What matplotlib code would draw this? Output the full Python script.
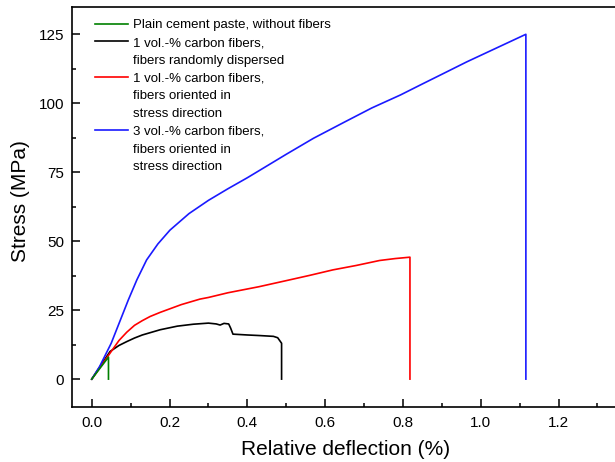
import matplotlib
matplotlib.use("Agg")
import matplotlib.pyplot as plt
from matplotlib.lines import Line2D
from matplotlib.ticker import MultipleLocator

plt.rcParams['font.family'] = ['Liberation Sans', 'DejaVu Sans']

# plain cement paste
plain_x = [0.0, 0.043, 0.043]
plain_y = [0.0, 8.0, 0.0]

# 1 vol.-% carbon fibers, random
rand_x = [0.0, 0.02, 0.047, 0.07, 0.09, 0.11, 0.13, 0.176, 0.22, 0.261, 0.30,
          0.32, 0.33, 0.34, 0.352, 0.357, 0.363, 0.40, 0.43, 0.467, 0.478,
          0.485, 0.488, 0.488]
rand_y = [0.0, 4.3, 10.0, 12.2, 13.6, 14.9, 16.0, 17.9, 19.2, 19.9, 20.3,
          20.0, 19.6, 20.2, 20.0, 18.5, 16.3, 16.0, 15.8, 15.5, 15.0,
          13.6, 13.0, 0.0]

# 1 vol.-% carbon fibers, oriented
or1_x = [0.0, 0.02, 0.047, 0.07, 0.09, 0.11, 0.13, 0.15, 0.176, 0.23, 0.278,
         0.30, 0.35, 0.43, 0.5, 0.56, 0.62, 0.68, 0.74, 0.78, 0.818, 0.818]
or1_y = [0.0, 4.0, 9.4, 14.0, 17.0, 19.5, 21.2, 22.7, 24.2, 27.0, 29.0,
         29.6, 31.3, 33.5, 35.7, 37.6, 39.6, 41.2, 43.0, 43.7, 44.2, 0.0]

# 3 vol.-% carbon fibers, oriented
or3_x = [0.0, 0.02, 0.05, 0.094, 0.116, 0.141, 0.17, 0.201, 0.25, 0.30, 0.35,
         0.40, 0.433, 0.5, 0.57, 0.65, 0.72, 0.7935, 0.85, 0.90, 0.964, 1.04,
         1.116, 1.116]
or3_y = [0.0, 4.5, 13.0, 28.7, 36.0, 43.2, 49.0, 54.0, 60.0, 64.8, 69.0,
         73.0, 75.8, 81.5, 87.3, 93.2, 98.3, 103.0, 107.0, 110.5, 115.0, 120.0,
         125.0, 0.0]

labels = ["Plain cement paste, without fibers",
          "1 vol.-% carbon fibers,", "fibers randomly dispersed",
          "1 vol.-% carbon fibers,", "fibers oriented in", "stress direction",
          "3 vol.-% carbon fibers,", "fibers oriented in", "stress direction"]

fig = plt.figure(figsize=(6.15, 4.62), dpi=100)
ax = fig.add_axes([72.3 / 615, 0.1197, 0.8887, 0.8658])

lw = 1.2
ax.plot(rand_x, rand_y, color='black', lw=lw)
ax.plot(or1_x, or1_y, color='#ff0000', lw=lw)
ax.plot(or3_x, or3_y, color='#1a1aff', lw=lw)
ax.plot(plain_x, plain_y, color='#008000', lw=lw, zorder=3)

ax.set_xlim(-0.05, 1.355)
ax.set_ylim(-10, 135)
ax.xaxis.set_major_locator(MultipleLocator(0.2))
ax.xaxis.set_minor_locator(MultipleLocator(0.1))
ax.yaxis.set_major_locator(MultipleLocator(25))
ax.yaxis.set_minor_locator(MultipleLocator(12.5))
ax.tick_params(which='both', direction='in', width=1.1, labelsize=11)
ax.tick_params(which='major', length=6)
ax.tick_params(which='minor', length=3)
ax.tick_params(axis='x', which='major', pad=7)
ax.tick_params(axis='y', which='major', pad=6)
for s in ax.spines.values():
    s.set_linewidth(1.2)

ax.set_xlabel('Relative deflection (%)', fontsize=15, labelpad=7)
ax.set_ylabel('Stress (MPa)', fontsize=15)
ax.yaxis.set_label_coords(-0.077, 0.514)

# legend: handle only on the first line of each entry
colors = ['#008000', 'black', None, '#ff0000', None, None, '#1a1aff', None, None]
handles = [Line2D([], [], color=c, lw=lw) if c else Line2D([], [], color='none')
           for c in colors]
ax.legend(handles, labels, loc='upper left', bbox_to_anchor=(95 / 615, 1 - 19 / 462),
          bbox_transform=fig.transFigure, frameon=False, fontsize=9.5,
          handlelength=2.5, handletextpad=0.4, labelspacing=0.42,
          borderpad=0, borderaxespad=0)

fig.savefig('out.png', dpi=100)
